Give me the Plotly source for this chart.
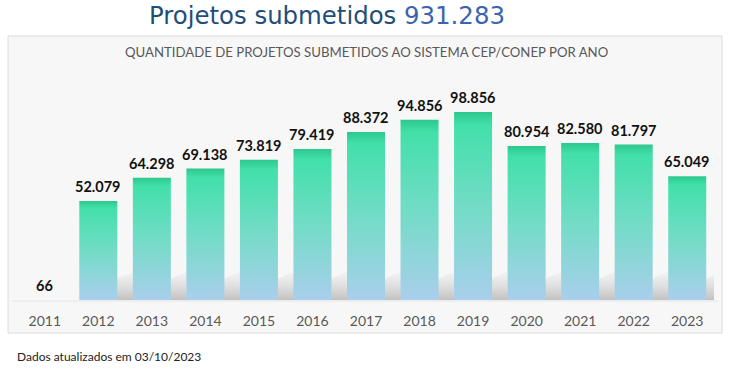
import plotly.graph_objects as go

years = ["2011", "2012", "2013", "2014", "2015", "2016", "2017",
         "2018", "2019", "2020", "2021", "2022", "2023"]
projects = [66, 52079, 64298, 69138, 73819, 79419, 88372,
            94856, 98856, 80954, 82580, 81797, 65049]
total_label = "931.283"

Y_MAX = 121000
HALF_W = 0.355

def fmt(v):
    return f"{v:,}".replace(",", ".")

fig = go.Figure()

# soft shadows behind bars
for i, v in enumerate(projects):
    if v < 5000:
        continue
    r = i + HALF_W
    fig.add_trace(go.Scatter(
        x=[r - 0.02, r - 0.02, r + 0.3, r + 0.3, r - 0.02],
        y=[0, 11000, 15000, 0, 0],
        mode="lines", line=dict(width=0), fill="toself",
        fillgradient=dict(type="vertical",
                          colorscale=[[0, "rgba(175,175,175,0.75)"],
                                      [1, "rgba(210,210,210,0.12)"]]),
        hoverinfo="skip", showlegend=False))

# gradient bars drawn as filled shapes on the data axes
for i, v in enumerate(projects):
    fig.add_trace(go.Scatter(
        x=[i - HALF_W, i - HALF_W, i + HALF_W, i + HALF_W, i - HALF_W],
        y=[0, v, v, 0, 0],
        mode="lines", line=dict(width=0),
        fill="toself",
        fillgradient=dict(type="vertical",
                          colorscale=[[0, "#a9cfec"], [0.5, "#72dcc6"],
                                      [0.93, "#42e0aa"], [1, "#2dc890"]]),
        hoverinfo="skip", showlegend=False))

for i, v in enumerate(projects):
    fig.add_annotation(x=i, y=v, text="<b>" + fmt(v) + "</b>",
                       showarrow=False, xanchor="center", yanchor="bottom",
                       yshift=4,
                       font=dict(family="Lato", size=14.5, color="#111111"))

def py(p):
    return (300 - p) / 230.0

def px(p):
    return (p - 18) / 696.0

fig.add_shape(type="rect", xref="paper", yref="paper",
              x0=px(8), x1=px(722), y0=py(333), y1=py(36),
              line=dict(color="#dcdcdc", width=1),
              fillcolor="#f7f7f7", layer="below")
fig.add_shape(type="line", xref="paper", yref="paper",
              x0=px(12), x1=px(718), y0=py(301), y1=py(301),
              line=dict(color="#e4e4e4", width=1), layer="below")

fig.add_annotation(xref="paper", yref="paper", x=px(327), y=py(15),
                   text="<span style='color:#1f4e79'>Projetos submetidos</span> "
                        "<span style='color:#3a64b0'>" + total_label + "</span>",
                   showarrow=False, xanchor="center", yanchor="middle",
                   font=dict(family="DejaVu Sans", size=24.4))
fig.add_annotation(xref="paper", yref="paper", x=px(366), y=py(52),
                   text="QUANTIDADE DE PROJETOS SUBMETIDOS AO SISTEMA CEP/CONEP POR ANO",
                   showarrow=False, xanchor="center", yanchor="middle",
                   font=dict(family="Lato", size=13.2, color="#595959"))
fig.add_annotation(xref="paper", yref="paper", x=px(15), y=py(356),
                   text="Dados atualizados em 03/10/2023",
                   showarrow=False, xanchor="left", yanchor="middle",
                   font=dict(family="Lato", size=12, color="#222222"))

fig.update_layout(
    width=731, height=374,
    margin=dict(l=18, r=17, t=70, b=74),
    paper_bgcolor="white", plot_bgcolor="rgba(0,0,0,0)",
    xaxis=dict(range=[-0.5, len(years) - 0.5], tickmode="array",
               tickvals=list(range(len(years))), ticktext=years,
               showgrid=False, zeroline=False, showline=False,
               ticks="outside", ticklen=8, tickcolor="rgba(0,0,0,0)",
               tickfont=dict(family="Lato", size=14, color="#595959"),
               fixedrange=True),
    yaxis=dict(range=[0, Y_MAX], visible=False, fixedrange=True),
)

fig.write_html("out.html",
               config={"displayModeBar": False, "staticPlot": True},
               post_script="document.body.style.margin='0';"
                           "document.body.style.overflow='hidden';")
